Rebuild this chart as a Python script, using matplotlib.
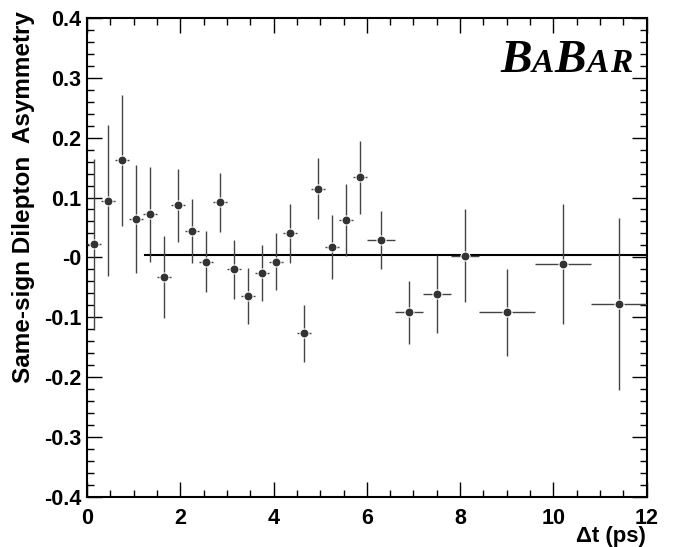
import matplotlib
matplotlib.use("Agg")
import matplotlib.pyplot as plt
from matplotlib.ticker import FixedLocator, FixedFormatter, MultipleLocator
from matplotlib.transforms import IdentityTransform

# ---- data ----
dt_centers = [0.15, 0.45, 0.75, 1.05, 1.35, 1.65, 1.95, 2.25, 2.55, 2.85,
              3.15, 3.45, 3.75, 4.05, 4.35, 4.65, 4.95, 5.25, 5.55, 5.85,
              6.3, 6.9, 7.5, 8.1, 9.0, 10.2, 11.4]
dt_halfwidth = [0.15] * 20 + [0.3] * 4 + [0.6] * 3
asym = [0.022, 0.095, 0.162, 0.064, 0.072, -0.033, 0.087, 0.044, -0.007, 0.092,
        -0.020, -0.065, -0.026, -0.007, 0.040, -0.127, 0.115, 0.017, 0.062, 0.134,
        0.029, -0.092, -0.061, 0.003, -0.092, -0.011, -0.078]
asym_err = [0.143, 0.126, 0.110, 0.090, 0.079, 0.068, 0.061, 0.054, 0.051, 0.049,
            0.049, 0.047, 0.047, 0.048, 0.049, 0.048, 0.051, 0.054, 0.060, 0.061,
            0.048, 0.053, 0.065, 0.078, 0.073, 0.100, 0.144]
fit_x = [1.25, 12.0]
fit_y = [0.004, 0.004]

x_ticks = [0, 2, 4, 6, 8, 10, 12]
x_ticklabels = ["0", "2", "4", "6", "8", "10", "12"]
y_ticks = [-0.4, -0.3, -0.2, -0.1, 0.0, 0.1, 0.2, 0.3, 0.4]
y_ticklabels = ["-0.4", "-0.3", "-0.2", "-0.1", "-0", "0.1", "0.2", "0.3", "0.4"]

W, H = 680, 547
fig = plt.figure(figsize=(W / 100, H / 100), dpi=100)
ax = fig.add_axes([87 / W, 1 - 496.7 / H, (646.7 - 87) / W, (496.7 - 18) / H])

ax.plot(fit_x, fit_y, color="black", lw=1.5, zorder=2)
ax.errorbar(dt_centers, asym, yerr=asym_err, xerr=dt_halfwidth, fmt="o",
            color="#333333", ms=6.5, mec="white", mew=0.8,
            ecolor="#444444", elinewidth=1.0, capsize=0, zorder=3)

ax.set_xlim(0, 12)
ax.set_ylim(-0.4, 0.4)
ax.xaxis.set_major_locator(FixedLocator(x_ticks))
ax.xaxis.set_major_formatter(FixedFormatter(x_ticklabels))
ax.yaxis.set_major_locator(FixedLocator(y_ticks))
ax.yaxis.set_major_formatter(FixedFormatter(y_ticklabels))
ax.xaxis.set_minor_locator(MultipleLocator(0.5))
ax.yaxis.set_minor_locator(MultipleLocator(0.02))

ax.tick_params(which="both", direction="in", top=True, right=True, width=1.0, color="black")
ax.tick_params(which="major", length=10.5)
ax.tick_params(which="minor", length=5.3)
ax.tick_params(axis="y", which="major", pad=4)
ax.tick_params(axis="x", which="major", pad=8)
for lab in ax.get_yticklabels() + ax.get_xticklabels():
    lab.set_fontfamily("Liberation Sans")
    lab.set_fontweight("bold")
    lab.set_fontsize(15.5)
for s in ax.spines.values():
    s.set_linewidth(1.5)

fig.text(24 / W, 1 - 197 / H, "Same-sign Dilepton  Asymmetry", rotation=90,
         ha="center", va="center", fontfamily="Liberation Sans", fontweight="bold",
         fontsize=17.5)
fig.text(646 / W, 1 - 526 / H, "\u0394t (ps)", ha="right", va="top",
         fontfamily="Liberation Sans", fontweight="bold", fontsize=16)

# BABAR logo
renderer = fig.canvas.get_renderer()
pieces = [("B", 34, 0.5), ("A", 24, 0.5), ("B", 34, 0.5), ("A", 24, 1.5), ("R", 24, 0)]
xp = 500
yp = H - 71.5
for txt, fs, gap in pieces:
    t = fig.text(xp, yp, txt, transform=IdentityTransform(), ha="left", va="baseline",
                 fontfamily="Liberation Serif", fontweight="bold", fontstyle="italic",
                 fontsize=fs, color="black")
    bb = t.get_window_extent(renderer)
    xp = bb.x1 + gap

fig.savefig("out.png", dpi=100)
